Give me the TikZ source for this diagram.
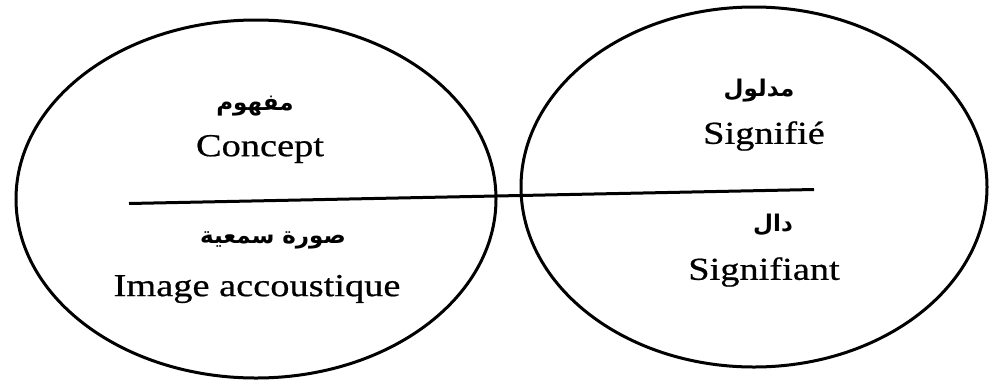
\documentclass[tikz,border=0pt]{standalone}
\usepackage{fontspec}
\setmainfont[FakeStretch=1.2,FakeBold=0.6]{Liberation Serif}
\newfontfamily\arabicfont[Script=Arabic]{DejaVu Sans}
\TeXXeTstate=1
\usetikzlibrary{shapes.geometric}
\begin{document}
\begin{tikzpicture}[x=1pt,y=-1pt,
  circ/.style={ellipse,draw,line width=3pt,inner sep=0pt,outer sep=0pt},
  lat/.style={font=\fontsize{32}{34}\selectfont,inner sep=0pt},
  ara/.style={font=\arabicfont\bfseries\fontsize{23}{26}\selectfont,inner sep=0pt}]
\useasboundingbox (0,0) rectangle (990,381);
\node[circ,minimum width=480pt,minimum height=358pt] (L) at (256,199) {};
\node[circ,minimum width=466pt,minimum height=360pt] (R) at (754,187) {};
\coordinate (a) at (129,203.5);
\coordinate (b) at (814,189.5);
\draw[line width=3pt] (a) -- (b);
\node[ara] (mafhum) at (255,106) {\beginR مفهوم\endR};
\node[lat] (concept) at (260,149) {Concept};
\node[ara] (sura) at (273,240) {\beginR صورة سمعية\endR};
\node[lat] (image) at (257,289) {Image accoustique};
\node[ara] (madlul) at (759,91) {\beginR مدلول\endR};
\node[lat] (signifie) at (764,136) {Signifié};
\node[ara] (dal) at (773,225) {\beginR دال\endR};
\node[lat] (signifiant) at (764,272) {Signifiant};
\end{tikzpicture}
\end{document}
